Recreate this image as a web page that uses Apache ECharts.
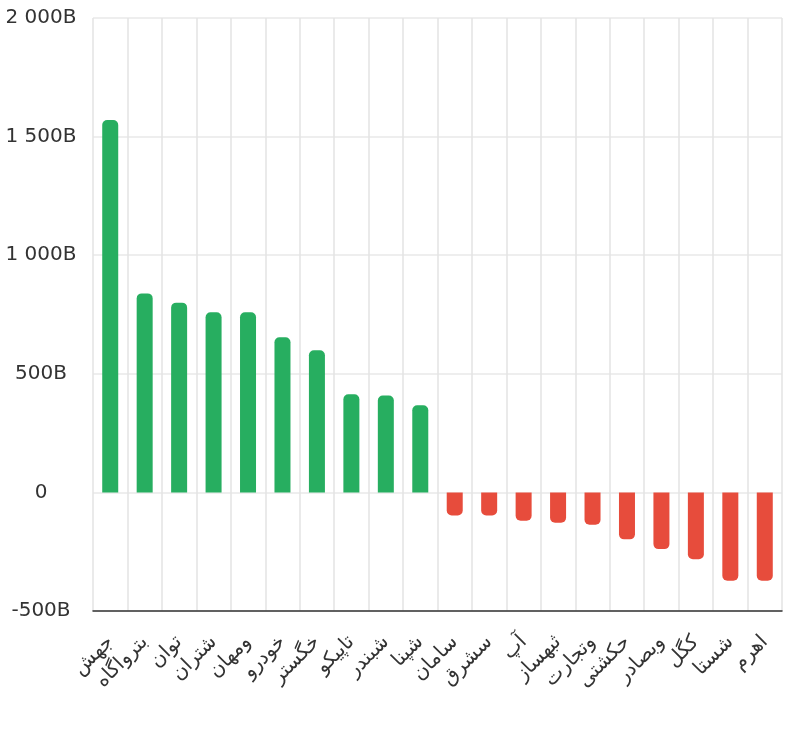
<!DOCTYPE html>
<html>
<head>
<meta charset="utf-8">
<script src="https://cdn.jsdelivr.net/npm/echarts@6/dist/echarts.min.js"></script>
<style>
html,body{margin:0;padding:0;background:#fff;}
#chart{width:800px;height:729px;}
</style>
</head>
<body>
<div id="chart"></div>
<script>
const categories = ['جهش','بترواگاه','توان','شتران','ومهان','خودرو','خگستر','تاپیکو','شبندر','شپنا','سامان','سشرق','آپ','ثبهساز','وتجارت','حکشتی','وبصادر','کگل','شستا','اهرم'];
const values = [1570, 839, 800, 759, 759, 654, 599, 414, 408, 367, -97, -97, -119, -128, -136, -198, -239, -282, -372, -372];
const yTicks = [-500, 0, 500, 1000, 1500, 2000];

function fmt(v) {
  if (v === 0) return '0';
  const s = Math.abs(v).toString().replace(/\B(?=(\d{3})+(?!\d))/g, ' ');
  return (v < 0 ? '-' : '') + s + 'B';
}

const chart = echarts.init(document.getElementById('chart'), null, {renderer: 'canvas'});
chart.setOption({
  animation: false,
  backgroundColor: '#ffffff',
  grid: {left: 93, right: 18, top: 18, bottom: 118, containLabel: false},
  xAxis: [{
    type: 'category',
    data: categories,
    boundaryGap: true,
    axisLine: {show: true, onZero: false, lineStyle: {color: '#333333', width: 1.5}},
    axisTick: {show: false},
    splitLine: {show: false},
    axisLabel: {
      interval: 0,
      rotate: 45,
      margin: 28,
      fontSize: 20,
      color: '#333333',
      fontFamily: 'DejaVu Sans'
    },
    z: 3
  }, {
    type: 'value',
    min: 0,
    max: categories.length,
    interval: 1,
    position: 'top',
    axisLine: {show: false},
    axisTick: {show: false},
    axisLabel: {show: false},
    splitLine: {show: true, lineStyle: {color: '#e3e3e3', width: 1.5}}
  }],
  yAxis: {
    type: 'value',
    min: yTicks[0],
    max: yTicks[yTicks.length - 1],
    interval: 500,
    axisLine: {show: false},
    axisTick: {show: false},
    splitLine: {show: true, lineStyle: {color: '#e8e8e8', width: 1.5}},
    axisLabel: {
      formatter: fmt,
      align: 'center',
      margin: 52,
      fontSize: 20,
      color: '#333333',
      fontFamily: 'DejaVu Sans'
    }
  },
  series: [{
    type: 'bar',
    xAxisIndex: 0,
    barWidth: 16,
    data: values.map(v => ({
      value: v,
      itemStyle: {
        color: v >= 0 ? '#27ae60' : '#e74c3c',
        borderRadius: v >= 0 ? [5, 5, 0, 0] : [0, 0, 5, 5]
      }
    }))
  }]
});
</script>
</body>
</html>
